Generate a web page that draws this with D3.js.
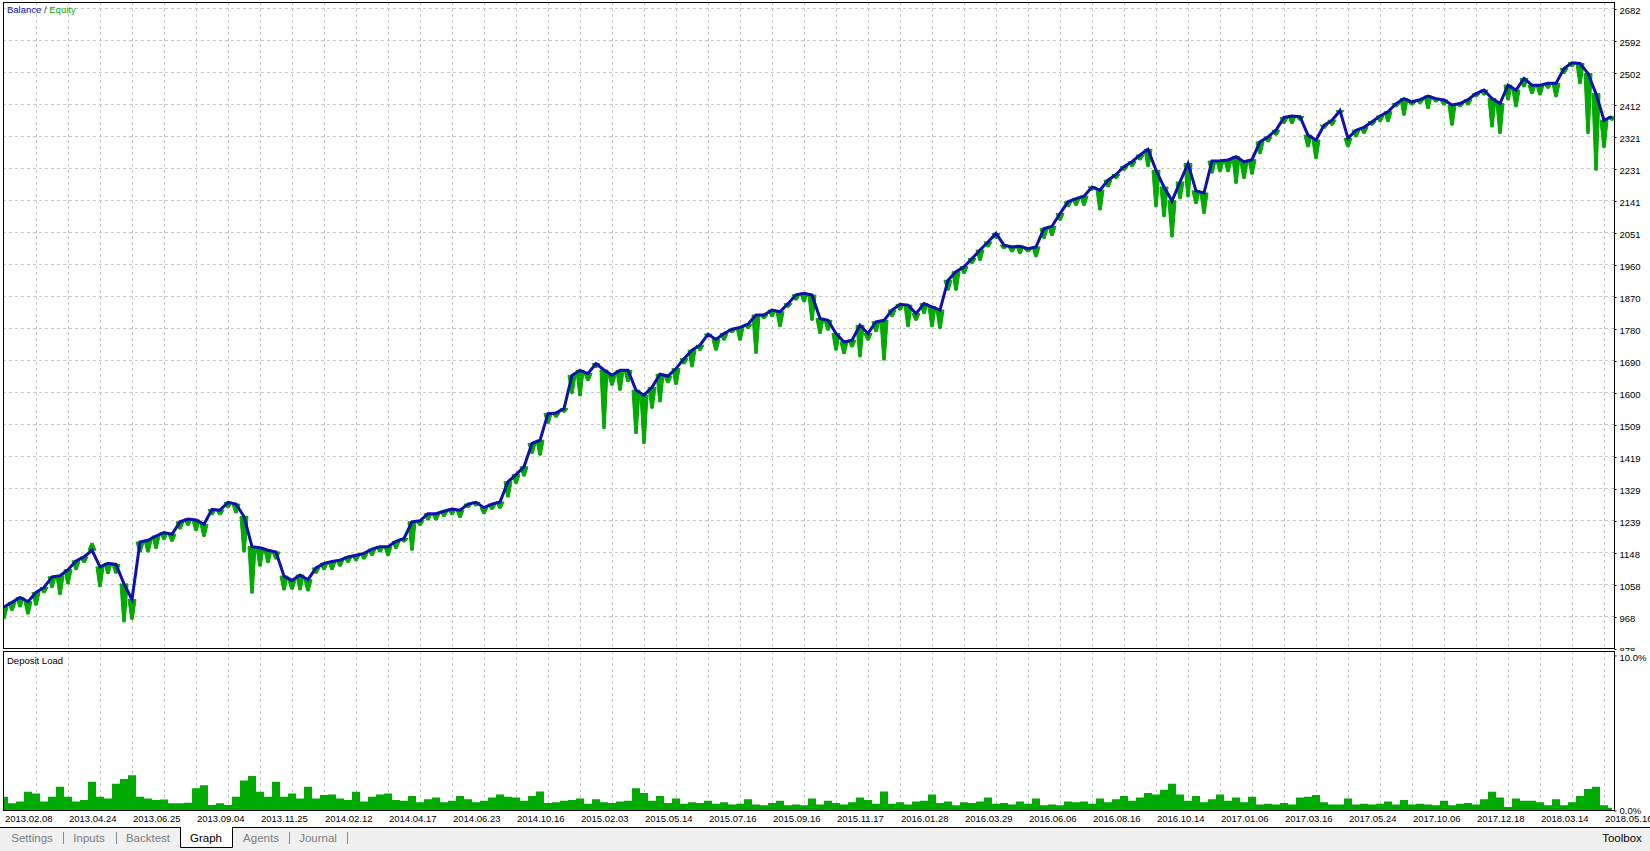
<!DOCTYPE html>
<html>
<head>
<meta charset="utf-8">
<script src="https://cdn.jsdelivr.net/npm/d3@7"></script>
<style>
body { margin: 0; background: #fff; overflow: hidden; }
svg { display: block; font-family: Tahoma, "Liberation Sans", Arial, sans-serif; }
.axis text { font-size: 9.5px; fill: #000; }
.axis path { display: none; }
.axis line { stroke: #000; }
.grid line { stroke: #c8c8c8; stroke-dasharray: 3,3; shape-rendering: crispEdges; }
</style>
</head>
<body>
<div class="container"></div>
<script>
const width = 1650, height = 851;

const dates = ['2013.02.08','2013.04.24','2013.06.25','2013.09.04','2013.11.25','2014.02.12',
	'2014.04.17','2014.06.23','2014.10.16','2015.02.03','2015.05.14','2015.07.16','2015.09.16',
	'2015.11.17','2016.01.28','2016.03.29','2016.06.06','2016.08.16','2016.10.14','2017.01.06',
	'2017.03.16','2017.05.24','2017.10.06','2017.12.18','2018.03.14','2018.05.16'];

const yValues = [2682, 2591.8, 2501.6, 2411.4, 2321.2, 2231, 2140.8, 2050.6, 1960.4, 1870.2, 1780,
	1689.8, 1599.6, 1509.4, 1419.2, 1329, 1238.8, 1148.6, 1058.4, 968.2, 878];
const yLabels = ['2682','2592','2502','2412','2321','2231','2141','2051','1960','1870','1780',
	'1690','1600','1509','1419','1329','1239','1148','1058','968','878'];

const loadTicks = [0, 10];

const balance = [
	995,1008,1022,1010,1036,1050,1080,1083,1100,1125,1136,1155,1108,1118,1115,1060,1016,1178,1183,1195,
	1205,1200,1235,1243,1240,1228,1270,1268,1290,1285,1250,1165,1162,1155,1150,1082,1070,1085,1072,1105,
	1118,1123,1127,1136,1141,1146,1158,1165,1165,1180,1188,1235,1238,1258,1258,1265,1271,1268,1285,1290,
	1275,1285,1291,1348,1368,1390,1456,1465,1540,1542,1554,1648,1662,1653,1681,1663,1648,1662,1662,1606,
	1592,1614,1651,1646,1667,1695,1719,1733,1764,1749,1766,1778,1783,1792,1818,1818,1832,1827,1850,1875,
	1879,1874,1808,1803,1766,1742,1747,1789,1766,1799,1803,1832,1848,1846,1822,1850,1841,1832,1916,1940,
	1954,1977,2001,2024,2048,2015,2010,2012,2005,2010,2062,2068,2104,2137,2146,2153,2179,2170,2198,2214,
	2236,2250,2269,2285,2226,2179,2140,2193,2245,2168,2162,2252,2253,2255,2264,2250,2256,2306,2320,2339,
	2375,2379,2377,2325,2311,2353,2367,2394,2316,2339,2347,2363,2379,2391,2414,2428,2419,2425,2435,2428,
	2424,2410,2414,2425,2442,2452,2428,2414,2466,2452,2485,2466,2466,2471,2471,2513,2529,2527,2499,2442,
	2367,2377];

const equity = [
	962,985,995,975,1000,1035,1050,1030,1060,1100,1120,1175,1052,1089,1090,953,960,1150,1150,1160,
	1185,1180,1215,1225,1210,1194,1255,1255,1275,1260,1150,1034,1110,1120,1130,1043,1045,1043,1040,1090,
	1100,1100,1110,1120,1125,1130,1140,1150,1140,1160,1178,1155,1225,1240,1240,1250,1255,1247,1275,1280,
	1258,1270,1273,1305,1343,1364,1428,1423,1512,1530,1544,1597,1590,1633,1670,1498,1620,1606,1630,1484,
	1456,1555,1573,1627,1622,1680,1672,1718,1756,1719,1747,1768,1747,1780,1710,1808,1813,1785,1840,1860,
	1855,1803,1766,1775,1719,1709,1728,1700,1747,1771,1691,1813,1832,1785,1803,1822,1785,1780,1888,1888,
	1935,1963,1972,2010,2034,2005,1996,1991,1996,1982,2034,2042,2085,2123,2127,2127,2170,2114,2179,2203,
	2226,2236,2255,2236,2123,2095,2038,2146,2151,2132,2104,2218,2222,2222,2189,2203,2215,2273,2306,2325,
	2358,2358,2367,2292,2259,2344,2353,2386,2292,2320,2330,2353,2363,2363,2405,2381,2410,2414,2400,2419,
	2410,2353,2405,2410,2433,2438,2348,2330,2424,2405,2461,2442,2438,2457,2433,2499,2518,2470,2330,2226,
	2290,2367];

const depositLoad = [
	0.85,0.43,0.55,1.18,1.07,0.55,0.85,1.5,0.85,0.55,0.64,1.82,0.85,0.75,1.7,2.0,2.25,0.85,0.75,0.64,
	0.68,0.43,0.43,0.47,1.4,1.6,0.32,0.43,0.32,0.85,1.9,2.2,1.18,0.85,1.82,0.85,1.07,0.75,1.5,0.75,
	0.96,1.0,0.75,0.64,1.18,0.55,0.85,1.0,1.07,0.64,0.6,0.9,0.5,0.7,0.8,0.5,0.6,0.9,0.7,0.5,
	0.6,0.8,1.0,0.85,0.8,0.6,0.9,1.2,0.45,0.5,0.6,0.65,0.75,0.4,0.7,0.5,0.45,0.55,0.6,1.4,
	1.1,0.6,0.9,0.45,0.75,0.4,0.5,0.45,0.6,0.4,0.5,0.35,0.4,0.7,0.35,0.3,0.45,0.6,0.3,0.35,
	0.3,0.75,0.35,0.6,0.45,0.35,0.5,0.8,0.65,0.4,1.2,0.4,0.5,0.35,0.55,0.6,1.0,0.45,0.55,0.3,
	0.5,0.45,0.55,0.8,0.4,0.45,0.35,0.55,0.4,0.75,0.3,0.35,0.3,0.55,0.5,0.55,0.4,0.75,0.5,0.7,
	0.9,0.6,0.8,1.1,1.0,1.3,1.7,1.0,0.6,0.9,0.5,0.7,1.0,0.6,0.8,0.5,0.85,0.35,0.4,0.35,
	0.45,0.35,0.8,0.85,0.96,0.5,0.35,0.35,0.75,0.35,0.4,0.35,0.4,0.55,0.35,0.64,0.35,0.4,0.35,0.3,
	0.6,0.3,0.4,0.45,0.35,0.7,1.18,0.8,0.2,0.75,0.6,0.6,0.5,0.3,0.7,0.3,0.5,0.9,1.35,1.5,
	0.3,0.15];

const tabs = ['Settings','Inputs','Backtest','Graph','Agents','Journal'];
const activeTab = 'Graph';

// layout
const plotLeft = 3, plotRight = 1614, plotTop = 2, mainBottom = 649, loadTop = 651, loadBottom = 810;

const sx = d3.scaleLinear().domain([0, balance.length - 1]).range([4, 1612]);
const sy = d3.scaleLinear().domain([878, 2682]).range([648.5, 8.5]);
const sl = d3.scaleLinear().domain([0, 10]).range([loadBottom, 655]);
const sd = d3.scalePoint().domain(dates).range([4.5, 4.5 + 64 * (dates.length - 1)]);

const blue = '#1010aa', green = '#00aa00';

const svg = d3.select('.container').append('svg')
	.attr('width', width).attr('height', height)
	.attr('viewBox', [0, 0, width, height]);

svg.append('rect').attr('width', width).attr('height', height).attr('fill', '#fff');

const defs = svg.append('defs');
defs.append('clipPath').attr('id', 'clipMain').append('rect')
	.attr('x', plotLeft).attr('y', plotTop).attr('width', plotRight - plotLeft).attr('height', mainBottom - plotTop);
defs.append('clipPath').attr('id', 'clipLoad').append('rect')
	.attr('x', plotLeft).attr('y', loadTop).attr('width', plotRight - plotLeft).attr('height', loadBottom - loadTop);
defs.append('clipPath').attr('id', 'clipAxis').append('rect')
	.attr('x', plotRight).attr('y', 0).attr('width', width - plotRight).attr('height', loadTop);

// vertical grid positions: every half step of the date scale
const gridX = d3.range(1, 2 * dates.length - 1).map(k => sd.range()[0] + k * sd.step() / 2)
	.filter(x => x < plotRight);

function vgrid(y0, y1) {
	svg.append('g').attr('class', 'grid')
		.selectAll('line').data(gridX).join('line')
		.attr('x1', d => Math.floor(d) + 0.5).attr('x2', d => Math.floor(d) + 0.5)
		.attr('y1', y0).attr('y2', y1);
}
vgrid(plotTop, mainBottom);
vgrid(loadTop, loadBottom);

svg.append('g').attr('class', 'grid')
	.selectAll('line').data(yValues.slice(0, -1)).join('line')
	.attr('x1', plotLeft).attr('x2', plotRight)
	.attr('y1', d => Math.floor(sy(d)) + 0.5).attr('y2', d => Math.floor(sy(d)) + 0.5);

// equity spikes and balance
const gMain = svg.append('g').attr('clip-path', 'url(#clipMain)');

function spike(d, i) {
	const x = sx(i), yb = sy(d), ye = sy(equity[i]);
	return `M${x - 4},${yb}L${x - 1.2},${ye}L${x + 1.2},${ye}L${x + 4},${yb}Z`;
}

gMain.append('g').attr('fill', green).attr('stroke', green).attr('stroke-width', 1)
	.selectAll('path').data(balance).join('path')
	.attr('d', spike);

gMain.append('path')
	.datum(balance)
	.attr('fill', 'none')
	.attr('stroke', blue)
	.attr('stroke-width', 3)
	.attr('stroke-linejoin', 'miter')
	.attr('d', d3.line().x((d, i) => sx(i)).y(d => sy(d)));

// deposit load
svg.append('g').attr('clip-path', 'url(#clipLoad)')
	.append('path')
	.datum(depositLoad)
	.attr('fill', green)
	.attr('d', d3.area().x((d, i) => sx(i)).y0(loadBottom).y1(d => sl(d)).curve(d3.curveStep));

// frames
const frame = svg.append('g').attr('fill', 'none').attr('stroke', '#000')
	.attr('shape-rendering', 'crispEdges');
frame.append('rect').attr('x', plotLeft + 0.5).attr('y', plotTop + 0.5)
	.attr('width', plotRight - plotLeft).attr('height', mainBottom - plotTop - 1);
frame.append('rect').attr('x', plotLeft + 0.5).attr('y', loadTop + 0.5)
	.attr('width', plotRight - plotLeft).attr('height', loadBottom - loadTop);

// right axes
svg.append('g').attr('clip-path', 'url(#clipAxis)')
	.append('g').attr('class', 'axis')
	.attr('transform', `translate(${plotRight + 0.5},0.5)`)
	.call(d3.axisRight(sy).tickValues(yValues).tickSize(2).tickPadding(3)
		.tickFormat((d, i) => yLabels[i]))
	.selectAll('text').attr('dy', '0.45em');

svg.append('g').attr('class', 'axis')
	.attr('transform', `translate(${plotRight + 0.5},0.5)`)
	.call(d3.axisRight(sl).tickValues(loadTicks).tickSize(2).tickPadding(3)
		.tickFormat(d => d.toFixed(1) + '%'))
	.selectAll('text').attr('dy', (d) => d === 0 ? '0.3em' : '0.5em');

// date axis
svg.append('g').attr('class', 'axis')
	.selectAll('text').data(dates).join('text')
	.attr('x', d => sd(d) + 0.5)
	.attr('y', 821.5)
	.text(d => d);

// captions
const legend = svg.append('text').attr('x', 7).attr('y', 13).attr('font-size', '9.5px');
legend.append('tspan').attr('fill', blue).text('Balance');
legend.append('tspan').attr('fill', '#333').text(' / ');
legend.append('tspan').attr('fill', '#11a811').text('Equity');

svg.append('text').attr('x', 7).attr('y', 663.5).attr('font-size', '9.5px').attr('fill', '#000')
	.text('Deposit Load');

// tab strip
const tabY = 827;
svg.append('rect').attr('x', 0).attr('y', tabY).attr('width', width).attr('height', height - tabY)
	.attr('fill', '#f0f0f0');
svg.append('line').attr('x1', 0).attr('x2', width).attr('y1', tabY + 0.5).attr('y2', tabY + 0.5)
	.attr('stroke', '#000');

const tabCenters = [32, 89, 148, 206, 261, 318];
const sepX = [63.5, 116.5, 289.5, 347.5];

svg.append('path')
	.attr('d', `M180.5,${tabY}V847.5H232.5V${tabY}`)
	.attr('fill', '#fff').attr('stroke', '#000');
svg.append('line').attr('x1', 181).attr('x2', 232).attr('y1', tabY + 0.5).attr('y2', tabY + 0.5)
	.attr('stroke', '#fff');

svg.append('g').selectAll('line').data(sepX).join('line')
	.attr('x1', d => d).attr('x2', d => d).attr('y1', 832).attr('y2', 844)
	.attr('stroke', '#8a8a8a');

svg.append('g').selectAll('text').data(tabs).join('text')
	.attr('x', (d, i) => tabCenters[i])
	.attr('y', 841.5)
	.attr('text-anchor', 'middle')
	.attr('font-size', '11.5px')
	.attr('fill', d => d === activeTab ? '#000' : '#7d7d7d')
	.text(d => d);

svg.append('text').attr('x', 1622).attr('y', 842).attr('text-anchor', 'middle')
	.attr('font-size', '11.5px').attr('fill', '#000').text('Toolbox');
</script>
</body>
</html>
